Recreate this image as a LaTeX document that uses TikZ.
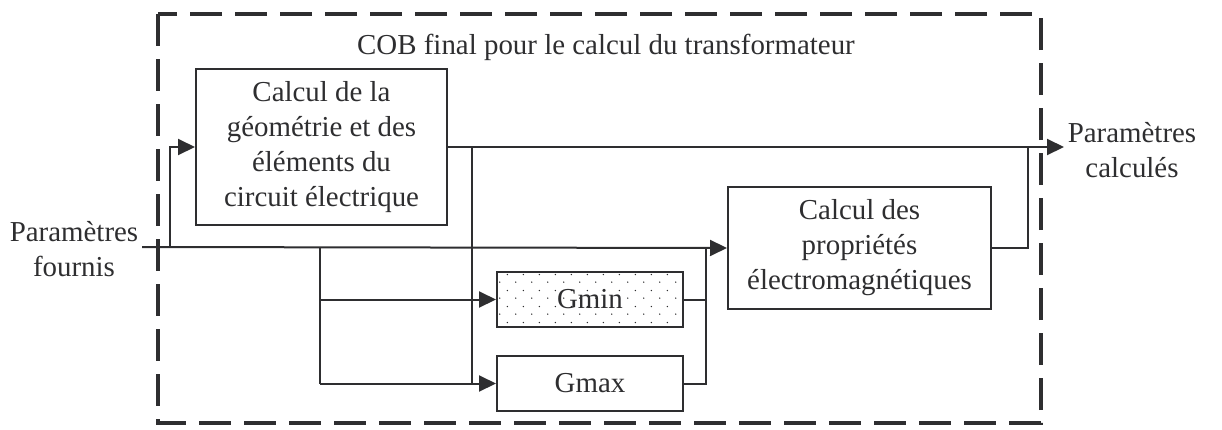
\documentclass[tikz,border=0pt]{standalone}
\usepackage{fontspec}
\setmainfont{Liberation Serif}
\usetikzlibrary{arrows.meta,patterns.meta}
\definecolor{ink}{HTML}{2E2E30}
\tikzdeclarepattern{
  name=sparsedots,
  type=uncolored,
  bottom left={(0pt,0pt)},
  top right={(16pt,16pt)},
  tile size={(16pt,16pt)},
  code={\fill (4pt,4pt) circle (0.8pt); \fill (12pt,12pt) circle (0.8pt);}
}
\tikzset{
  blk/.style={draw=ink, line width=2pt, inner sep=0pt, align=center, text=ink},
  lbl/.style={inner sep=0pt, align=center, text=ink},
  wire/.style={draw=ink, line width=2pt},
  arr/.style={wire, -{Triangle[length=17pt,width=16pt]}},
  frame/.style={draw=ink, line width=4pt, dash pattern=on 32pt off 13pt}
}
\begin{document}
\begin{tikzpicture}[x=1pt,y=-1pt, font=\fontsize{28.9}{35}\selectfont]
\useasboundingbox (0,0) rectangle (1222,429);
\draw[frame] (158,14) rectangle (1041,423);
\node[lbl] (title) at (606,47) {COB final pour le calcul du transformateur};
\node[blk, minimum width=251pt, minimum height=156pt] (geo) at (321.5,147)
  {Calcul de la\\ géométrie et des\\ éléments du\\ circuit électrique};
\node[blk, minimum width=263pt, minimum height=122pt] (em) at (859.5,248)
  {Calcul des\\ propriétés\\ électromagnétiques};
\node[blk, minimum width=186pt, minimum height=55pt, pattern=sparsedots, pattern color=ink] (gmin) at (590,299.5) {Gmin};
\node[blk, minimum width=186pt, minimum height=55pt] (gmax) at (590,383.5) {Gmax};
\node[lbl] (pin) at (74,249) {Paramètres\\ fournis};
\node[lbl] (pout) at (1132,150) {Paramètres\\ calculés};
\coordinate (in) at (142,247);
\coordinate (fb) at (170,247);
\coordinate (br) at (320,247);
\coordinate (v1) at (472,147);
\coordinate (v2) at (706,248);
\coordinate (v3) at (1028,147);
\coordinate (tip) at (1064,147);
% input line
\draw[arr] (in) -- (em.west);
\draw[arr] (fb) |- (geo.west);
\draw[wire] (br) -- (br |- gmax.west);
\draw[arr] (br |- gmin.west) -- (gmin.west);
\draw[arr] (br |- gmax.west) -- (gmax.west);
% geometry output
\draw[arr] (geo.east) -- (tip);
\draw[wire] (v1) -- (v1 |- gmax.west);
% G outputs
\draw[wire] (gmin.east) -- (v2 |- gmin.east);
\draw[wire] (gmax.east) -- (v2 |- gmax.east) -- (v2);
% em output
\draw[wire] (em.east) -- (v3 |- em.east) -- (v3);
\end{tikzpicture}
\end{document}
